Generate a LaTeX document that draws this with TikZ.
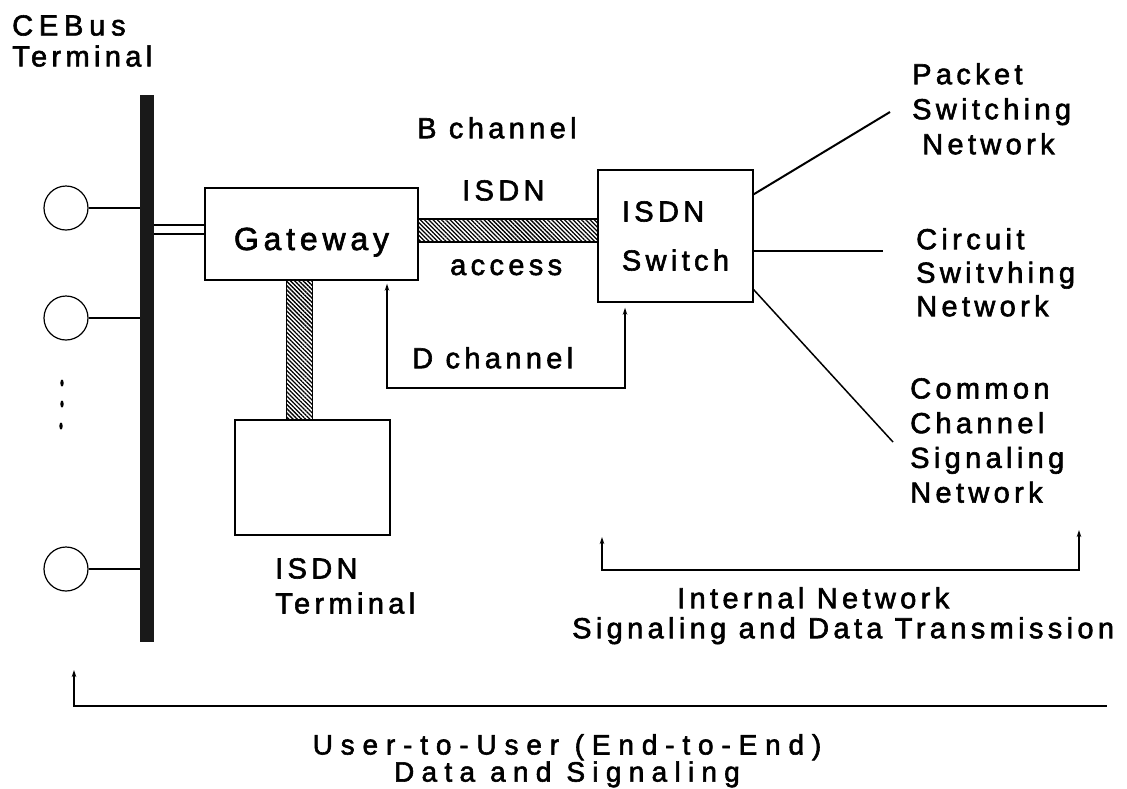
\documentclass[tikz,border=0pt]{standalone}
\usepackage{fontspec}
\setmainfont{Liberation Sans}[LetterSpace=15,FakeBold=2]
\usetikzlibrary{arrows.meta,patterns.meta,calc}
\begin{document}
\begin{tikzpicture}[x=1pt,y=-1pt,
  lbl/.style={inner sep=0pt, anchor=north west, align=left, font=\fontsize{29}{35}\selectfont},
  box/.style={draw, line width=1.4pt, inner sep=0pt},
  term/.style={circle, draw, line width=1.2pt, minimum size=44pt, inner sep=0pt},
  wire/.style={line width=1.5pt},
  wirethick/.style={line width=2pt},
  hatch/.style={draw, line width=1.2pt, pattern={Lines[angle=-45,distance=3pt,line width=1.3pt]}},
  tip/.tip={Stealth[length=7pt,width=4.5pt]},
  dbl/.style={line width=1.5pt, tip-tip},
  single/.style={line width=1.8pt, tip-}
]
\useasboundingbox (0,0) rectangle (1127,788);

% bus and terminals
\node[fill=black!90, minimum width=14pt, minimum height=547pt, inner sep=0pt] (bus) at (147,368.5) {};
\node[term] (t1) at (66,208) {};
\node[term] (t2) at (66,318) {};
\node[term] (t3) at (66,569) {};
\draw[wire] (t1) -- (t1 -| bus.west);
\draw[wire] (t2) -- (t2 -| bus.west);
\draw[wire] (t3) -- (t3 -| bus.west);
\fill (62,383) ellipse (1.7 and 3.5);
\fill (62,404) ellipse (1.7 and 3.5);
\fill (61,426) ellipse (1.7 and 3.5);

% boxes
\node[box, minimum width=213pt, minimum height=92pt, text height=32pt, text depth=0pt,
      font=\fontsize{32}{38}\selectfont] (gw) at (311.5,234) {Gateway};
\node[box, minimum width=155pt, minimum height=132pt, align=left,
      font=\fontsize{29}{49}\selectfont] (sw) at (675.5,236) {ISDN\\Switch};
\node[box, minimum width=155pt, minimum height=115pt] (tb) at (312.5,477.5) {};

% bus to gateway double line
\draw[wire] (gw.west) -- (gw.west -| bus.east);
\coordinate (gwu) at ($(gw.west)+(0,-9)$);
\draw[wire] (gwu) -- (gwu -| bus.east);

% hatched links
\draw[hatch] ($(gw.east)+(0,-15)$) rectangle ($(sw.west)+(0,6)$);
\draw[hatch] ($(gw.south)+(-25,0)$) rectangle (tb.north);

% D channel
\coordinate (dlow) at (500,388);
\coordinate (da) at ($(gw.south)+(75.5,3)$);
\coordinate (db) at ($(sw.south)+(-50.5,5)$);
\draw[dbl] (da) -- (da |- dlow) -- (dlow -| db) -- (db);

% switch to networks
\coordinate (pk) at (890,112);
\coordinate (ck) at (883,251);
\coordinate (cm) at (893,442);
\draw[wirethick] ($(sw.north east)+(0,25)$) -- (pk);
\draw[wirethick] ($(sw.east)+(0,15)$) -- (ck);
\draw[wire] ($(sw.south east)+(0,-13)$) -- (cm);

% brackets
\coordinate (iL) at (602,537);
\coordinate (iR) at (1079,530);
\coordinate (iB) at (840,570);
\draw[dbl] (iL) -- (iL |- iB) -- (iB -| iR) -- (iR);
\coordinate (uL) at (74,670);
\coordinate (uB) at (1107,706);
\draw[single] (uL) -- (uL |- uB) -- (uB);

% labels
\node[lbl, font=\fontsize{29}{31}\selectfont] (cebus) at (12,15) {{\addfontfeature{LetterSpace=20}CEBus}\\Terminal};
\node[lbl] (bch) at (417,117) {B channel};
\node[lbl] (isdnb) at (462,180) {ISDN};
\node[lbl, anchor=base west] (acc) at (450,275) {access};
\node[lbl] (dch) at (412,347) {D channel};
\node[lbl] (psn) at (912,63) {Packet\\Switching\\\hspace*{10pt}Network};
\node[lbl, font=\fontsize{29}{33.5}\selectfont] (csn) at (916,228) {Circuit\\Switvhing\\Network};
\node[lbl, font=\fontsize{29}{34.7}\selectfont] (ccs) at (910,378) {Common\\Channel\\Signaling\\Network};
\node[lbl] (itl) at (275,558) {ISDN\\Terminal};
\node[lbl, font=\fontsize{29}{30}\selectfont] (inl) at (572,587) {\hspace*{105pt}Internal Network\\Signaling and Data Transmission};
\node[lbl, align=center, anchor=north, font=\fontsize{28}{26}\selectfont] (uul) at (567,734) {{\addfontfeature{LetterSpace=28}User-to-User (End-to-End)}\\{\addfontfeature{LetterSpace=26}Data and Signaling}};
\end{tikzpicture}
\end{document}
